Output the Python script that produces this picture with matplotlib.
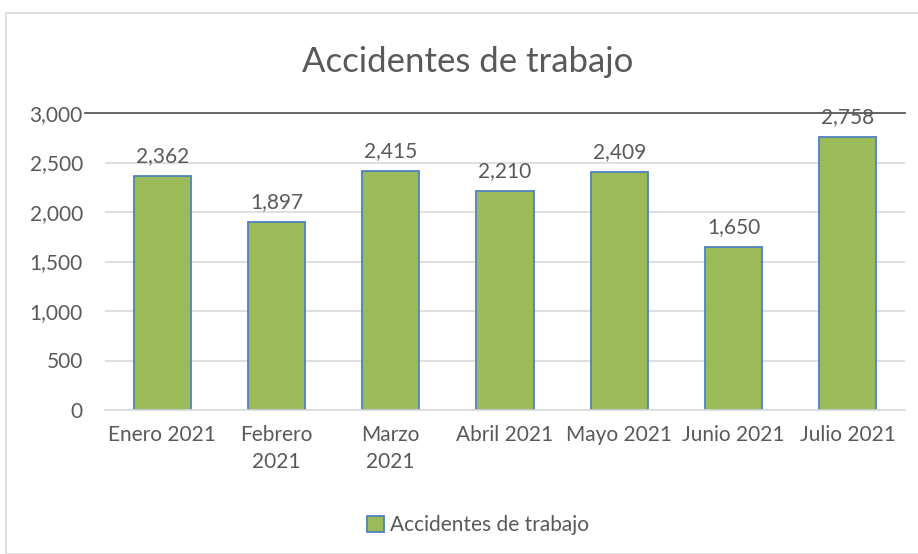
import matplotlib.pyplot as plt
from matplotlib.patches import Rectangle, Patch
from matplotlib.lines import Line2D

meses = ["Enero 2021", "Febrero\n2021", "Marzo\n2021", "Abril 2021",
         "Mayo 2021", "Junio 2021", "Julio 2021"]
accidentes = [2362, 1897, 2415, 2210, 2409, 1650, 2758]
yticks = [0, 500, 1000, 1500, 2000, 2500, 3000]

gris = "#595959"
verde = "#9bbb59"
azul = "#4f81bd"

plt.rcParams['font.family'] = ['Lato', 'DejaVu Sans']

W, H = 918, 554
fig = plt.figure(figsize=(W / 100, H / 100), dpi=100)
fig.patch.set_facecolor("white")

# marco del grafico
fig.add_artist(Rectangle((6 / W, 0), 1.0, 1 - 13 / H, transform=fig.transFigure,
                         fill=False, edgecolor="#d9d9d9", linewidth=1.2))

ax = fig.add_axes([105 / W, 1 - 410 / H, 800 / W, 297 / H])
x = list(range(len(meses)))
bars = ax.bar(x, accidentes, width=0.5, color=verde, edgecolor=azul, linewidth=1.3, zorder=2)

ax.set_xlim(-0.5, len(meses) - 0.5)
ax.set_ylim(0, 3000)
ax.set_yticks(yticks)
ax.set_yticklabels([f"{v:,}" for v in yticks])
ax.set_xticks(x)
ax.set_xticklabels(meses, linespacing=1.45)
ax.tick_params(axis="both", length=0, labelsize=15, colors=gris)
ax.tick_params(axis="y", pad=16)
ax.tick_params(axis="x", pad=11)

ax.grid(axis="y", color="#d9d9d9", linewidth=1.2, zorder=0)
for s in ["top", "right", "left"]:
    ax.spines[s].set_visible(False)
ax.spines["bottom"].set_color("#d9d9d9")
ax.spines["bottom"].set_linewidth(1.2)

for b, v in zip(bars, accidentes):
    ax.annotate(f"{v:,}", (b.get_x() + b.get_width() / 2, v), xytext=(0, 7),
                textcoords="offset points", ha="center", va="bottom",
                fontsize=15, color=gris, zorder=3, annotation_clip=False)

# linea superior oscura
ax.add_line(Line2D([-0.5 - 20 / 114.3, len(meses) - 0.5], [3000, 3000], color=gris,
                   linewidth=1.3, clip_on=False, zorder=4))

fig.text(468 / W, 1 - 62 / H, "Accidentes de trabajo", ha="center", va="center",
         fontsize=25, color=gris)

fig.legend(handles=[Patch(facecolor=verde, edgecolor=azul, linewidth=1.3,
                          label="Accidentes de trabajo")],
           loc="center", bbox_to_anchor=(478 / W, 1 - 525 / H), frameon=False,
           fontsize=15, labelcolor=gris, handlelength=0.8, handleheight=0.8,
           handletextpad=0.3)

fig.savefig("out.png", dpi=100)
